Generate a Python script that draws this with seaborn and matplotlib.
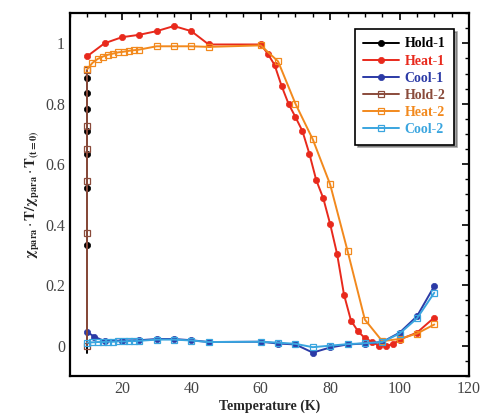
import numpy as np
import pandas as pd
import matplotlib
matplotlib.use("Agg")
import matplotlib.pyplot as plt
from matplotlib.ticker import MultipleLocator
import seaborn as sns

# Data
hold1_T = [10, 10, 10, 10, 10, 10, 10, 10]
hold1_v = [-0.025, 0.332, 0.52, 0.633, 0.709, 0.783, 0.837, 0.884]

heat1_T = [10, 15, 20, 25, 30, 35, 40, 45, 60, 62, 64, 66, 68, 70, 72, 74, 76, 78, 80,
           82, 84, 86, 88, 90, 92, 94, 96, 98, 100, 105, 110]
heat1_v = [0.957, 1.0, 1.02, 1.028, 1.04, 1.057, 1.04, 0.996, 0.996, 0.966, 0.928, 0.859,
           0.80, 0.756, 0.71, 0.635, 0.547, 0.488, 0.402, 0.303, 0.168, 0.083, 0.048, 0.025,
           0.013, 0.0, 0.0, 0.004, 0.02, 0.043, 0.093]

cool1_T = [10, 12, 15, 20, 25, 30, 35, 40, 45, 60, 65, 70, 75, 80, 85, 90, 95, 100, 105, 110]
cool1_v = [0.045, 0.03, 0.015, 0.017, 0.018, 0.022, 0.022, 0.018, 0.012, 0.013, 0.007,
           0.004, -0.023, -0.006, 0.004, 0.007, 0.012, 0.043, 0.097, 0.197]

hold2_T = [10, 10, 10, 10, 10, 10]
hold2_v = [0.0, 0.373, 0.545, 0.651, 0.728, 0.91]

heat2_T = [10, 11.5, 13, 14.5, 16, 17.5, 19, 20.5, 22, 23.5, 25, 30, 35, 40, 45, 60, 65,
           70, 75, 80, 85, 90, 95, 100, 105, 110]
heat2_v = [0.914, 0.935, 0.948, 0.956, 0.962, 0.966, 0.97, 0.972, 0.975, 0.977, 0.979,
           0.99, 0.99, 0.99, 0.988, 0.993, 0.94, 0.80, 0.682, 0.533, 0.314, 0.086, 0.015,
           0.022, 0.04, 0.07]

cool2_T = [10, 11.5, 13, 14.5, 16, 17.5, 19, 20.5, 22, 23.5, 25, 30, 35, 40, 45, 60, 65,
           70, 75, 80, 85, 90, 95, 100, 105, 110]
cool2_v = [0.01, 0.011, 0.012, 0.012, 0.013, 0.013, 0.014, 0.014, 0.015, 0.015, 0.016,
           0.02, 0.02, 0.017, 0.012, 0.013, 0.01, 0.006, -0.005, 0.0, 0.005, 0.008, 0.012,
           0.04, 0.09, 0.175]

series = [
    ("Hold-1", hold1_T, hold1_v, "#000000", "o", True),
    ("Heat-1", heat1_T, heat1_v, "#e8291c", "o", True),
    ("Cool-1", cool1_T, cool1_v, "#2b3aa6", "o", True),
    ("Hold-2", hold2_T, hold2_v, "#8a4b3b", "s", False),
    ("Heat-2", heat2_T, heat2_v, "#f2891d", "s", False),
    ("Cool-2", cool2_T, cool2_v, "#3aa5df", "s", False),
]

sns.set_theme(style="white")
plt.rcParams["font.family"] = ["Liberation Serif", "DejaVu Serif"]
plt.rcParams["mathtext.fontset"] = "stix"

fig = plt.figure(figsize=(4.85, 4.2), dpi=100)
ax = fig.add_axes([0.144, 0.105, 0.823, 0.864])

for name, T, v, color, marker, filled in series:
    df = pd.DataFrame({"T": T, "v": v})
    # the hold-1 line starts below zero without a marker
    mk = list(range(1, len(T))) if name == "Hold-1" else None
    sns.lineplot(data=df, x="T", y="v", ax=ax, sort=False, estimator=None,
                 color=color, linewidth=1.4, marker=marker,
                 markersize=4.5 if filled else 4.2,
                 markerfacecolor=color if filled else "none",
                 markeredgecolor=color, markeredgewidth=0.9 if not filled else 0.5,
                 markevery=mk, label=name)

ax.set_xlim(5, 120)
ax.set_ylim(-0.1, 1.1)
ax.xaxis.set_minor_locator(MultipleLocator(5))
ax.yaxis.set_minor_locator(MultipleLocator(0.05))
ax.set_xticks([20, 40, 60, 80, 100, 120])
ax.set_xticklabels(["20", "40", "60", "80", "100", "120"])
ax.set_yticks([0, 0.2, 0.4, 0.6, 0.8, 1.0])
ax.set_yticklabels(["0", "0.2", "0.4", "0.6", "0.8", "1"])
ax.tick_params(which="both", direction="in", top=True, right=True, colors="black",
               labelcolor="#444444", labelsize=11.5)
ax.tick_params(which="major", length=5, width=1.2)
ax.tick_params(which="minor", length=3, width=1.0)
for s in ax.spines.values():
    s.set_color("black")
    s.set_linewidth(1.6)

ax.set_xlabel("Temperature (K)", fontsize=10, fontweight="bold", labelpad=2)
ax.set_ylabel(r"$\mathbf{\chi_{para}}\cdot\mathbf{T/\chi_{para}}\cdot\mathbf{T_{(t=0)}}$",
              fontsize=10.5, labelpad=2)

leg = ax.legend(loc="upper right", bbox_to_anchor=(0.98, 0.975), frameon=True,
                fancybox=False, shadow=True, handlelength=2.6, handletextpad=0.4,
                borderpad=0.6, labelspacing=0.3, prop={"weight": "bold", "size": 10})
leg.get_frame().set_edgecolor("black")
leg.get_frame().set_linewidth(1.2)
for text, (_, _, _, color, _, _) in zip(leg.get_texts(), series):
    text.set_color(color)

fig.savefig("out.png", dpi=100)
